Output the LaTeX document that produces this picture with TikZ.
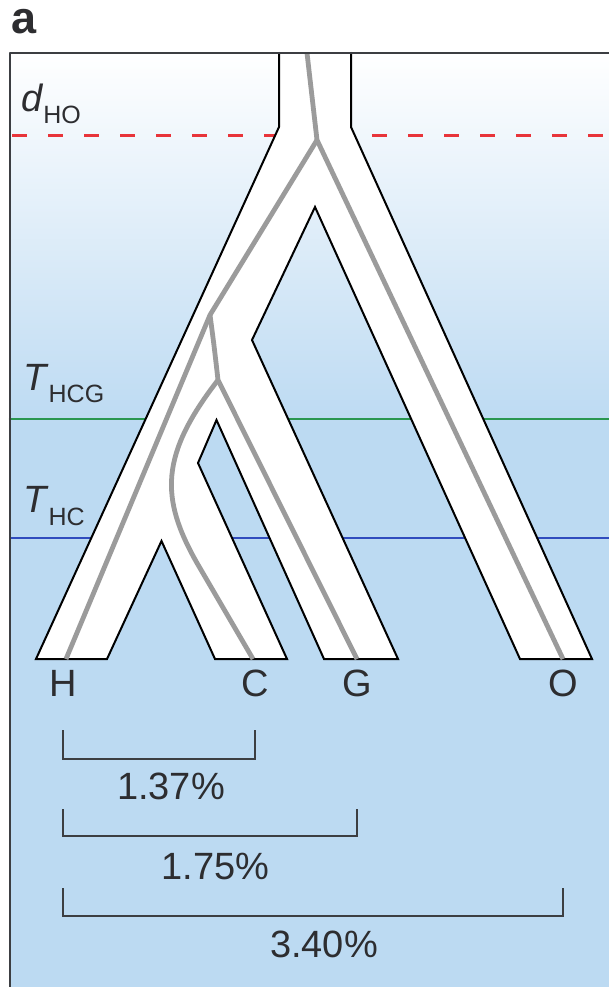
\documentclass[tikz,border=0pt]{standalone}
\usepackage{fontspec}
\setmainfont{Liberation Sans}
\usetikzlibrary{calc}
\definecolor{skyblue}{RGB}{188,218,242}
\definecolor{lineage}{RGB}{155,155,155}
\definecolor{hoRed}{RGB}{232,52,58}
\definecolor{hcgGreen}{RGB}{42,150,80}
\definecolor{hcBlue}{RGB}{48,76,190}
\definecolor{frame}{RGB}{60,62,66}
\definecolor{ink}{RGB}{45,45,48}

\begin{document}
\begin{tikzpicture}[x=1pt, y=-1pt, line cap=round, line join=round,
  tiplabel/.style={font=\fontsize{38}{38}\selectfont, text=ink, inner sep=0pt},
  bracket/.style={line width=2.5pt, draw=frame, line cap=butt, line join=miter},
  gene/.style={line width=4.8pt, draw=lineage, line cap=butt}]
  \useasboundingbox (0,0) rectangle (609,987);
  \shade[top color=white, bottom color=skyblue] (10,53) rectangle (609,425);   % sky gradient
  \fill[skyblue] (10,424) rectangle (609,987);
  \draw[hoRed, line width=3pt, line cap=butt, dash pattern=on 15pt off 21pt] (12,136) -- (609,136); % d_HO
  \draw[hcgGreen, line width=2.6pt] (10,419) -- (609,419);                   % T_HCG
  \draw[hcBlue, line width=2pt] (10,538) -- (609,538);                       % T_HC
  % species tree
  \draw[fill=white, line width=2pt, line join=miter] (279,53) -- (279,127) -- (36,659) -- (107,659)
    -- (161.5,541) -- (215,659) -- (287,659) -- (198,463) -- (216.5,420) -- (324,659) -- (398,659)
    -- (252,340) -- (315,207) -- (520,659) -- (592,659) -- (351,127) -- (351,53);
  % gene lineages
  \draw[gene] (307,53) -- (317,140) -- (563,659);
  \draw[gene] (317,140) -- (210,315) -- (66,659);
  \draw[gene] (210,315) .. controls (214,345) .. (218,380) -- (357,659);
  \draw[gene] (218,380) .. controls (160,455) and (160,498) .. (197,563) -- (253,659);
  \draw[frame, line width=2.5pt, line cap=butt] (609,53) -- (10,53) -- (10,987); % panel frame
  \node[font=\fontsize{45}{45}\selectfont\bfseries, text=ink, anchor=base west, inner sep=0pt] (panel) at (11,34) {a};
  \node[anchor=base west, text=ink, inner sep=0pt] (dHO) at (21,112)
    {\fontsize{38}{38}\selectfont\textit{d}\raisebox{-12pt}{\fontsize{25}{25}\selectfont HO}};
  \node[anchor=base west, text=ink, inner sep=0pt] (THCG) at (23,390)
    {\fontsize{38}{38}\selectfont\textit{T}\raisebox{-12pt}{\fontsize{25}{25}\selectfont HCG}};
  \node[anchor=base west, text=ink, inner sep=0pt] (THC) at (23,512)
    {\fontsize{38}{38}\selectfont\textit{T}\raisebox{-13pt}{\fontsize{25}{25}\selectfont HC}};
  \node[tiplabel] (H) at (63,683.5) {H};
  \node[tiplabel] (C) at (255,683.5) {C};
  \node[tiplabel] (G) at (357,683.5) {G};
  \node[tiplabel] (O) at (563,683.5) {O};
  % divergence brackets
  \draw[bracket] (H |- 0,730) -- (H |- 0,759) -- (C |- 0,759) -- (C |- 0,730);
  \draw[bracket] (H |- 0,809) -- (H |- 0,836) -- (G |- 0,836) -- (G |- 0,809);
  \draw[bracket] (H |- 0,888) -- (H |- 0,916) -- (O |- 0,916) -- (O |- 0,888);
  \node[tiplabel] (hc) at (171,786) {1.37\%};
  \node[tiplabel] (hg) at (215.5,866) {1.75\%};
  \node[tiplabel] (ho) at (324,944) {3.40\%};
\end{tikzpicture}
\end{document}
